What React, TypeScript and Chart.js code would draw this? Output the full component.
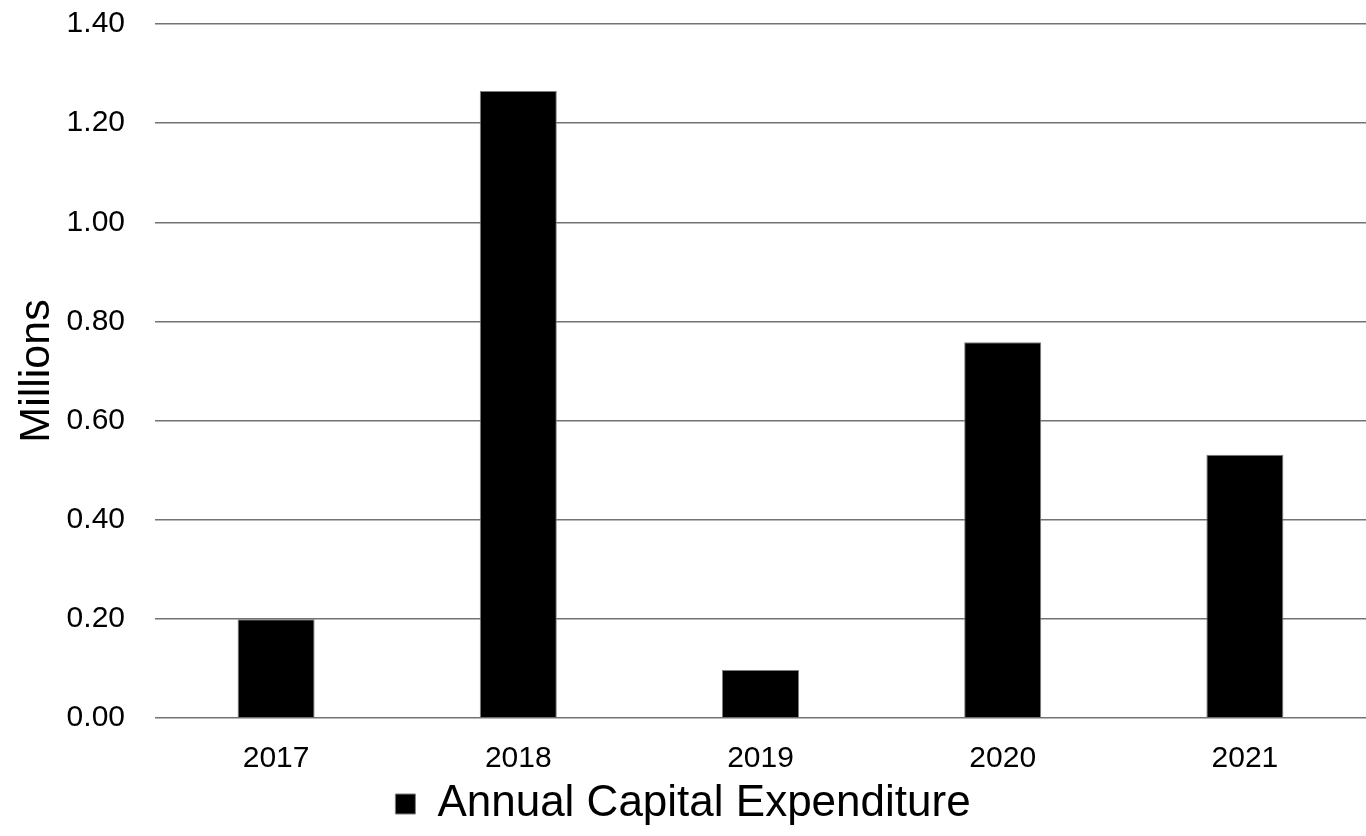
import React, { useEffect, useRef } from "react";
import { Chart, registerables } from "chart.js";

Chart.register(...registerables);

const categories = ["2017", "2018", "2019", "2020", "2021"];
const capexValues = [0.199, 1.265, 0.097, 0.758, 0.531];
const seriesLabel = "Annual Capital Expenditure";
const yTitle = "Millions";
const yMin = 0;
const yMax = 1.4;
const yStep = 0.2;

const FONT = "'Liberation Sans', Arial, sans-serif";

export default function App() {
  const ref = useRef<HTMLCanvasElement | null>(null);

  useEffect(() => {
    if (!ref.current) return;
    const chart = new Chart(ref.current, {
      type: "bar",
      data: {
        labels: categories,
        datasets: [
          {
            label: seriesLabel,
            data: capexValues,
            backgroundColor: "#000000",
            borderColor: "#7f7f7f",
            borderWidth: 1,
            categoryPercentage: 1,
            barPercentage: 0.318,
          },
        ],
      },
      options: {
        responsive: false,
        animation: false,
        maintainAspectRatio: false,
        layout: { padding: { top: 24, right: 0, left: 0, bottom: 0 } },
        plugins: {
          tooltip: { enabled: false },
          legend: {
            position: "bottom",
            labels: {
              color: "#000",
              font: { family: FONT, size: 44 },
              boxWidth: 20,
              boxHeight: 20,
              padding: 6,
            },
          },
        },
        scales: {
          x: {
            afterFit: (scale: any) => {
              scale.height = 58;
              scale.paddingLeft = 0;
              scale.paddingRight = 0;
            },
            grid: { display: false, drawTicks: false },
            border: { display: false },
            ticks: {
              color: "#000",
              font: { family: FONT, size: 30 },
              padding: 23,
            },
          },
          y: {
            min: yMin,
            max: yMax,
            afterFit: (scale: any) => {
              scale.width = 155;
              scale.paddingTop = 0;
              scale.paddingBottom = 0;
            },
            grid: { color: "#737373", lineWidth: 1.5, drawTicks: false },
            border: { display: false },
            ticks: {
              stepSize: yStep,
              color: "#000",
              font: { family: FONT, size: 30 },
              padding: 30,
              callback: (v: any) => Number(v).toFixed(2),
            },
            title: {
              display: true,
              text: yTitle,
              color: "#000",
              font: { family: FONT, size: 43 },
              padding: { top: 11, bottom: 0 },
            },
          },
        },
      },
    });
    return () => chart.destroy();
  }, []);

  return (
    <div style={{ position: "absolute", left: 0, top: 0, width: 1366, height: 836, background: "#fff" }}>
      <canvas ref={ref} width={1366} height={836} style={{ display: "block" }} />
    </div>
  );
}
